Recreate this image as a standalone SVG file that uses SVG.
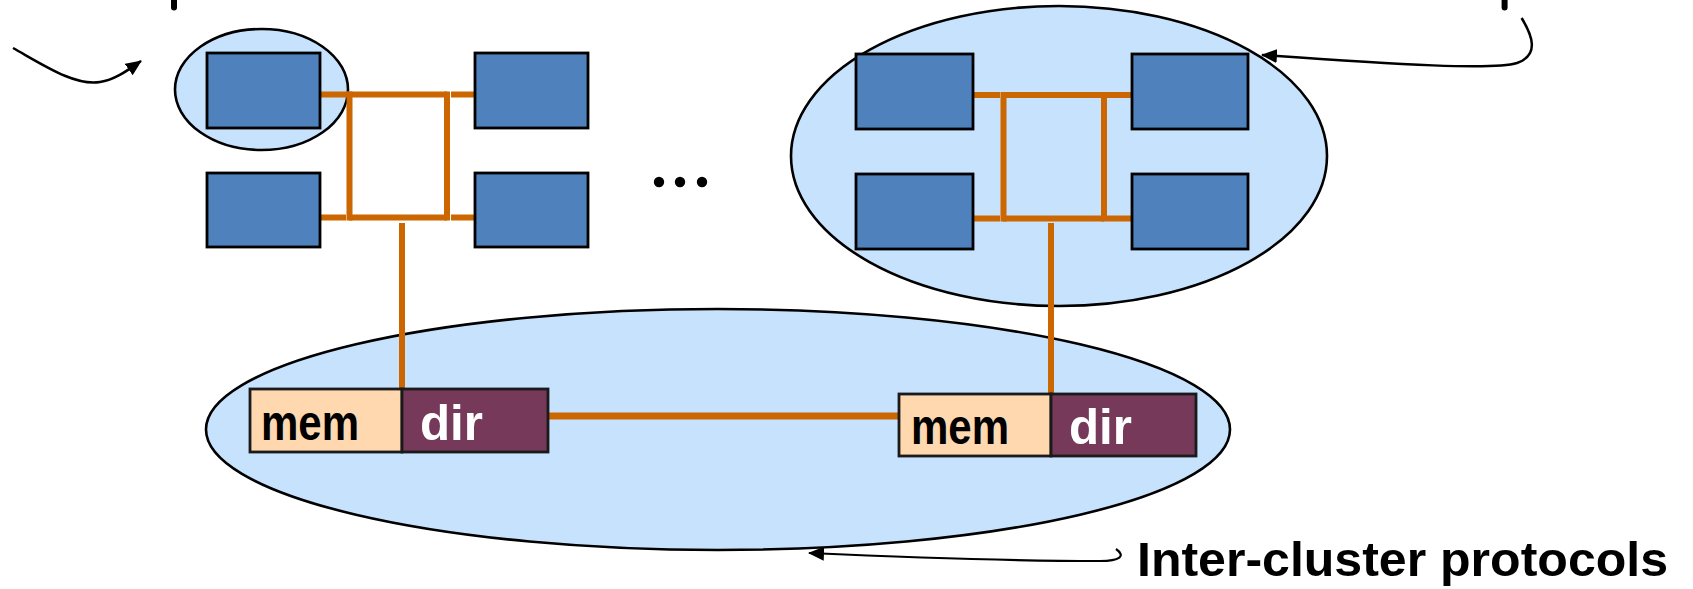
<svg xmlns="http://www.w3.org/2000/svg" width="1693" height="589" viewBox="0 0 1693 589">
<style>
.cl{fill:#C7E2FD;stroke:#000;stroke-width:2.6}
.box{fill:#4F81BD;stroke:#000;stroke-width:2.8}
.bus{fill:none;stroke:#CC6600;stroke-width:6}
.arr{fill:none;stroke:#000;stroke-width:2.5}
.mem{fill:#FFD8B0;stroke:#1a1a1a;stroke-width:2.8}
.dir{fill:#76395A;stroke:#1a1a1a;stroke-width:2.8}
.lbl{font-family:"Liberation Sans",Arial,sans-serif;font-weight:bold}
</style>
<defs>
<marker id="ah" markerUnits="userSpaceOnUse" markerWidth="16" markerHeight="14" refX="15" refY="7" orient="auto">
<path d="M0,0 L16,7 L0,14 z" fill="#000"/>
</marker>
</defs>
<g id="clusters">
<ellipse id="inter-cluster" class="cl" cx="718" cy="429.5" rx="512" ry="120.5"/>
<ellipse id="cluster-right" class="cl" cx="1059" cy="156" rx="268" ry="150"/>
<ellipse id="single-node" class="cl" cx="261.5" cy="89.5" rx="86.5" ry="60.5"/>
</g>
<g id="connectors">
<line class="bus" x1="320" y1="94.5" x2="447" y2="94.5"/>
<line class="bus" x1="451" y1="94.5" x2="475" y2="94.5"/>
<line class="bus" x1="320" y1="217.5" x2="346" y2="217.5"/>
<line class="bus" x1="349" y1="217.5" x2="447" y2="217.5"/>
<line class="bus" x1="451" y1="217.5" x2="475" y2="217.5"/>
<line class="bus" x1="349.5" y1="91.5" x2="349.5" y2="220.5"/>
<line class="bus" x1="447" y1="91.5" x2="447" y2="220.5"/>
<line class="bus" x1="402" y1="223" x2="402" y2="389"/>
<line class="bus" x1="973" y1="95" x2="1000" y2="95"/>
<line class="bus" x1="1003" y1="95" x2="1104" y2="95"/>
<line class="bus" x1="1107" y1="95" x2="1132" y2="95"/>
<line class="bus" x1="973" y1="218.5" x2="1000" y2="218.5"/>
<line class="bus" x1="1003" y1="218.5" x2="1104" y2="218.5"/>
<line class="bus" x1="1107" y1="218.5" x2="1132" y2="218.5"/>
<line class="bus" x1="1003.5" y1="92" x2="1003.5" y2="221.5"/>
<line class="bus" x1="1104" y1="92" x2="1104" y2="221.5"/>
<line class="bus" x1="1051" y1="223" x2="1051" y2="394"/>
<line class="bus" x1="548" y1="416" x2="899" y2="416" style="stroke-width:7"/>
<path class="arr" d="M13,48 C45,66 75,86 100,82 C115,80 128,70 141,61" marker-end="url(#ah)"/>
<path class="arr" d="M1521.6,18 C1532,35 1540,55 1517,63 C1495,70 1400,65 1262,55" marker-end="url(#ah)"/>
<path class="arr" d="M1116,549 C1126,556 1120,561 1100,561 C1000,561 900,557 809,553" marker-end="url(#ah)" style="stroke-width:2.2"/>
<line x1="174" y1="0" x2="174" y2="7.5" stroke="#000" stroke-width="6" stroke-linecap="round"/>
<line x1="1504.6" y1="0" x2="1504.6" y2="7.5" stroke="#000" stroke-width="6" stroke-linecap="round"/>
</g>
<g id="left-cluster-nodes">
<rect id="p1" class="box" x="207" y="53" width="113" height="75"/>
<rect id="p2" class="box" x="207" y="173" width="113" height="74"/>
<rect id="p3" class="box" x="475" y="53" width="113" height="75"/>
<rect id="p4" class="box" x="475" y="173" width="113" height="74"/>
</g>
<g id="right-cluster-nodes">
<rect id="p5" class="box" x="856" y="54" width="117" height="75"/>
<rect id="p6" class="box" x="856" y="174" width="117" height="75"/>
<rect id="p7" class="box" x="1132" y="54" width="116" height="75"/>
<rect id="p8" class="box" x="1132" y="174" width="116" height="75"/>
</g>
<g id="ellipsis">
<circle cx="659" cy="182" r="5.2"/>
<circle cx="680" cy="182" r="5.2"/>
<circle cx="702" cy="182" r="5.2"/>
</g>
<g id="memdir-left">
<rect class="mem" x="250" y="389" width="152" height="63"/>
<rect class="dir" x="402" y="389" width="146" height="63"/>
<text class="lbl" x="261" y="440" font-size="50" textLength="98" lengthAdjust="spacingAndGlyphs">mem</text>
<text class="lbl" x="420" y="440" font-size="50" fill="#fff" textLength="63" lengthAdjust="spacingAndGlyphs">dir</text>
</g>
<g id="memdir-right">
<rect class="mem" x="899" y="394" width="152" height="62"/>
<rect class="dir" x="1051" y="394" width="145" height="62"/>
<text class="lbl" x="911" y="444" font-size="50" textLength="98" lengthAdjust="spacingAndGlyphs">mem</text>
<text class="lbl" x="1069" y="444" font-size="50" fill="#fff" textLength="63" lengthAdjust="spacingAndGlyphs">dir</text>
</g>
<g id="label-inter">
<text class="lbl" x="1137" y="576" font-size="49" textLength="531" lengthAdjust="spacingAndGlyphs">Inter-cluster protocols</text>
</g>
</svg>
